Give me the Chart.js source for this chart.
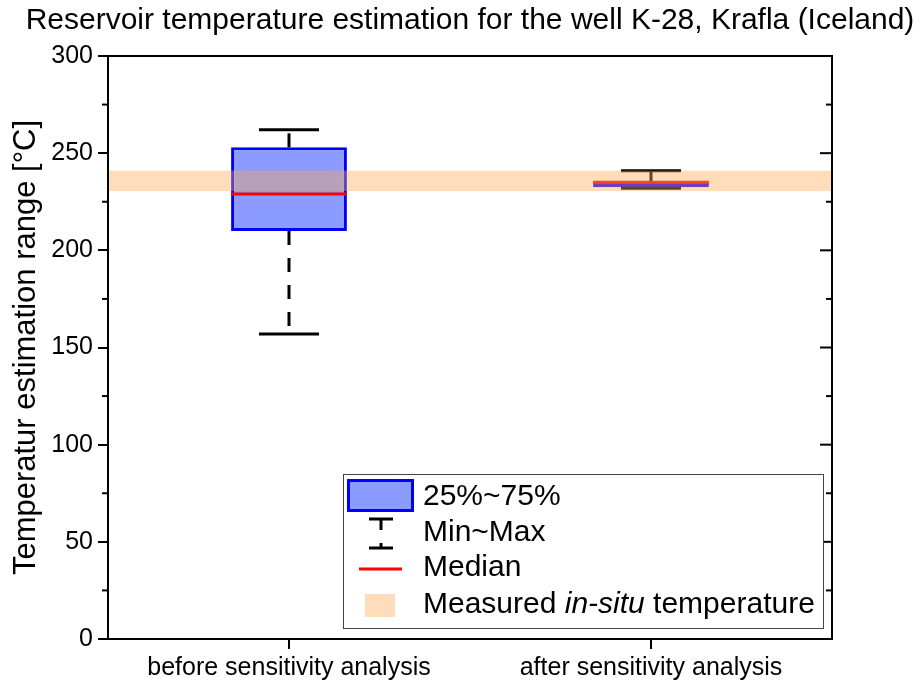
<!DOCTYPE html>
<html>
<head>
<meta charset="utf-8">
<script src="https://cdn.jsdelivr.net/npm/chart.js@4.4.1/dist/chart.umd.min.js"></script>
<style>
  html, body { margin: 0; padding: 0; background: #fff; }
</style>
</head>
<body>
<canvas id="chart" width="922" height="684"></canvas>
<script>
// box statistics per case, in °C
const categories = ['before sensitivity analysis', 'after sensitivity analysis'];
const minVals = [157, 232];
const q1Vals = [210, 232.5];
const medianVals = [229, 235];
const q3Vals = [253, 235.5];
const maxVals = [262, 241];
// measured in-situ temperature band [low, high]
const measuredBand = [230.5, 241];
const yMin = 0, yMax = 300, yStep = 50, yMinorStep = 25;

const TITLE = 'Reservoir temperature estimation for the well K-28, Krafla (Iceland)';
const FONT = "'Liberation Sans', Arial, sans-serif";
const BOX_FILL = '#8b9bff';
const BOX_EDGE = '#0000ff';
const BAND_FILL = 'rgba(255, 168, 82, 0.4)';

function strokeLine(ctx, x1, y1, x2, y2) {
  ctx.beginPath();
  ctx.moveTo(x1, y1);
  ctx.lineTo(x2, y2);
  ctx.stroke();
}

// title centred over the plot, allowed to run wider than the plot itself
const plotTitle = {
  id: 'plotTitle',
  afterDraw(chart) {
    const ctx = chart.ctx, a = chart.chartArea;
    ctx.save();
    ctx.fillStyle = '#000';
    ctx.font = '30px ' + FONT;
    ctx.textAlign = 'center';
    ctx.textBaseline = 'middle';
    ctx.fillText(TITLE, (a.left + a.right) / 2, 21);
    ctx.restore();
  }
};

// whiskers, caps, medians, then the measured band laid over them
const boxParts = {
  id: 'boxParts',
  afterDatasetsDraw(chart) {
    const ctx = chart.ctx, ys = chart.scales.y, area = chart.chartArea;
    const meta = chart.getDatasetMeta(0);
    ctx.save();
    meta.data.forEach((bar, i) => {
      const cx = bar.x, half = bar.width / 2;
      ctx.strokeStyle = '#000';
      ctx.lineWidth = 3;
      ctx.setLineDash([14, 13]);
      strokeLine(ctx, cx, ys.getPixelForValue(q3Vals[i]), cx, ys.getPixelForValue(maxVals[i]));
      strokeLine(ctx, cx, ys.getPixelForValue(q1Vals[i]), cx, ys.getPixelForValue(minVals[i]));
      ctx.setLineDash([]);
      [minVals[i], maxVals[i]].forEach(v => {
        const py = ys.getPixelForValue(v);
        strokeLine(ctx, cx - 30, py, cx + 30, py);
      });
      ctx.strokeStyle = '#ff0000';
      const my = ys.getPixelForValue(medianVals[i]);
      strokeLine(ctx, cx - half, my, cx + half, my);
    });
    const top = ys.getPixelForValue(measuredBand[1]);
    const bot = ys.getPixelForValue(measuredBand[0]);
    ctx.fillStyle = BAND_FILL;
    ctx.fillRect(area.left, top, area.right - area.left, bot - top);
    ctx.restore();
  }
};

// plot frame, minor ticks on the left, mirrored ticks on the right
const frame = {
  id: 'frame',
  afterDraw(chart) {
    const ctx = chart.ctx, a = chart.chartArea, ys = chart.scales.y;
    ctx.save();
    ctx.strokeStyle = '#000';
    ctx.lineWidth = 2;
    ctx.strokeRect(a.left, a.top, a.right - a.left, a.bottom - a.top);
    for (let v = yMin; v <= yMax; v += yMinorStep) {
      const py = ys.getPixelForValue(v);
      const major = v % yStep === 0;
      if (!major) strokeLine(ctx, a.left - 6, py, a.left, py);
      if (v > yMin && v < yMax) strokeLine(ctx, a.right - (major ? 12 : 6), py, a.right, py);
    }
    ctx.restore();
  }
};

// legend box in the lower right of the plot
const boxLegend = {
  id: 'boxLegend',
  afterDraw(chart) {
    const ctx = chart.ctx, a = chart.chartArea;
    const w = 480, h = 154;
    const x0 = a.right - 9 - w, y0 = a.bottom - 11 - h;
    ctx.save();
    ctx.fillStyle = '#fff';
    ctx.fillRect(x0, y0, w, h);
    ctx.strokeStyle = '#444';
    ctx.lineWidth = 1;
    ctx.strokeRect(x0 + 0.5, y0 + 0.5, w, h);

    // 25%~75% swatch
    ctx.fillStyle = BOX_FILL;
    ctx.fillRect(x0 + 4, y0 + 5, 67, 33);
    ctx.strokeStyle = BOX_EDGE;
    ctx.lineWidth = 3;
    ctx.strokeRect(x0 + 5.5, y0 + 6.5, 64, 30);

    // Min~Max whisker glyph
    const wx = x0 + 38;
    ctx.strokeStyle = '#000';
    ctx.lineWidth = 3;
    strokeLine(ctx, wx - 12, y0 + 45, wx + 12, y0 + 45);
    strokeLine(ctx, wx, y0 + 45, wx, y0 + 56);
    strokeLine(ctx, wx - 12, y0 + 74, wx + 12, y0 + 74);
    strokeLine(ctx, wx, y0 + 69, wx, y0 + 74);

    // Median line
    ctx.strokeStyle = '#ff0000';
    strokeLine(ctx, x0 + 16, y0 + 95, x0 + 59, y0 + 95);

    // measured band swatch
    ctx.fillStyle = BAND_FILL;
    ctx.fillRect(x0 + 22, y0 + 120, 30, 23);

    ctx.fillStyle = '#000';
    ctx.textBaseline = 'middle';
    ctx.font = '30px ' + FONT;
    const tx = x0 + 80;
    ctx.fillText('25%~75%', tx, y0 + 23);
    ctx.fillText('Min~Max', tx, y0 + 59);
    ctx.fillText('Median', tx, y0 + 94);
    let cx = tx;
    const parts = [['Measured ', ''], ['in-situ', 'italic '], [' temperature', '']];
    parts.forEach(([txt, style]) => {
      ctx.font = style + '30px ' + FONT;
      ctx.fillText(txt, cx, y0 + 131);
      cx += ctx.measureText(txt).width;
    });
    ctx.restore();
  }
};

new Chart(document.getElementById('chart'), {
  type: 'bar',
  data: {
    labels: categories,
    datasets: [{
      data: q1Vals.map((q1, i) => [q1, q3Vals[i]]),
      backgroundColor: BOX_FILL,
      borderColor: BOX_EDGE,
      borderWidth: 3,
      borderSkipped: false,
      categoryPercentage: 1,
      barPercentage: 0.32
    }]
  },
  options: {
    responsive: false,
    animation: false,
    layout: { padding: { left: 0, right: 90, top: 56, bottom: 0 } },
    plugins: {
      legend: { display: false },
      tooltip: { enabled: false },
      title: { display: false }
    },
    scales: {
      x: {
        offset: true,
        grid: { offset: false, drawOnChartArea: false, drawTicks: true, tickLength: 10, color: '#000', lineWidth: 2 },
        border: { display: true, color: '#000', width: 2 },
        ticks: { color: '#000', font: { family: FONT, size: 25 }, padding: 4, maxRotation: 0 },
        afterFit(scale) { scale.height = 45; }
      },
      y: {
        min: yMin,
        max: yMax,
        grid: { drawOnChartArea: false, drawTicks: true, tickLength: 10, color: '#000', lineWidth: 2 },
        border: { display: true, color: '#000', width: 2 },
        ticks: { stepSize: yStep, color: '#000', font: { family: FONT, size: 25 }, padding: 5 },
        title: {
          display: true,
          text: 'Temperatur estimation range [°C]',
          color: '#000',
          font: { family: FONT, size: 31 },
          padding: { top: 8, bottom: 0 }
        },
        afterFit(scale) { scale.width = 108; }
      }
    }
  },
  plugins: [boxParts, frame, boxLegend, plotTitle]
});
</script>
</body>
</html>
